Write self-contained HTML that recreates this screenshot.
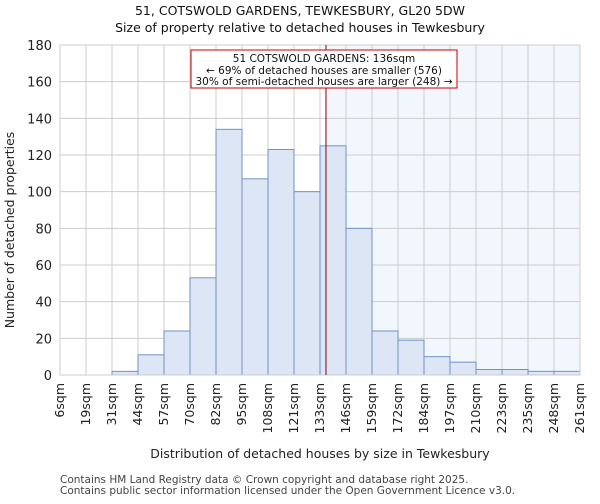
<!DOCTYPE html>
<html><head><meta charset="utf-8"><style>
body{margin:0;background:#fff;font-family:"DejaVu Sans","Liberation Sans",sans-serif}
text{font-family:"DejaVu Sans","Liberation Sans",sans-serif}
</style></head><body>
<svg id="c" width="600" height="500" xmlns="http://www.w3.org/2000/svg"></svg>
<script>
const labels=["6sqm","19sqm","31sqm","44sqm","57sqm","70sqm","82sqm","95sqm","108sqm","121sqm","133sqm","146sqm","159sqm","172sqm","184sqm","197sqm","210sqm","223sqm","235sqm","248sqm","261sqm"];
const counts=[0,0,2,11,24,53,134,107,123,100,125,80,24,19,10,7,3,3,2,2];
const yTicks=[0,20,40,60,80,100,120,140,160,180];
const propertyBin=10.23;
const L=60,R=580,T=45,B=375,yMax=180;
const n=counts.length;
const x=i=>L+(R-L)*i/n;
const y=v=>B-(B-T)*v/yMax;
const s=document.getElementById('c');
const NS='http://www.w3.org/2000/svg';
function mk(t,a,txt){const e=document.createElementNS(NS,t);for(const k in a)e.setAttribute(k,a[k]);if(txt!==undefined)e.textContent=txt;s.appendChild(e);return e;}
let e;
e=mk('rect',{x:x(propertyBin),y:T,width:R-x(propertyBin),height:B-T,fill:'#f2f6fd'});


for(let i=0;i<=n;i++){e=mk('line',{x1:x(i),x2:x(i),y1:T,y2:B,stroke:'#cccccc','stroke-width':1});

}
yTicks.forEach(v=>{e=mk('line',{x1:L,x2:R,y1:y(v),y2:y(v),stroke:'#cccccc','stroke-width':1});


e=mk('text',{x:L-8,y:y(v)+5,'text-anchor':'end','font-size':13,fill:'#222'},v);

});
counts.forEach((c,i)=>{e=mk('rect',{x:x(i),y:y(c),width:x(i+1)-x(i),height:B-y(c),fill:'#dce6f5',stroke:'#6f93c8','stroke-width':1});

});
labels.forEach((l,i)=>{const xx=x(i)+4;e=mk('text',{x:xx,y:B+8,'text-anchor':'end','font-size':12.5,fill:'#222',transform:`rotate(-90 ${xx} ${B+8})`},l);

});
e=mk('rect',{x:L,y:T,width:R-L,height:B-T,fill:'none',stroke:'#cccccc'});


e=mk('line',{x1:x(propertyBin),x2:x(propertyBin),y1:T,y2:B,stroke:'#880000','stroke-width':1});


e=mk('rect',{x:191,y:50,width:266,height:38,fill:'#fff',stroke:'#cc0000','stroke-width':1});


[["51 COTSWOLD GARDENS: 136sqm",62],["← 69% of detached houses are smaller (576)",74],["30% of semi-detached houses are larger (248) →",85]].forEach(t=>{
e=mk('text',{x:324,y:t[1],'text-anchor':'middle','font-size':10.5,fill:'#111'},t[0]);

});
e=mk('text',{x:300,y:15,'text-anchor':'middle','font-size':12.5,fill:'#111'},'51, COTSWOLD GARDENS, TEWKESBURY, GL20 5DW');


e=mk('text',{x:300,y:32,'text-anchor':'middle','font-size':12.5,fill:'#111'},'Size of property relative to detached houses in Tewkesbury');


e=mk('text',{x:14,y:230,'text-anchor':'middle','font-size':12.5,fill:'#222',transform:'rotate(-90 14 230)'},'Number of detached properties');


e=mk('text',{x:320,y:458,'text-anchor':'middle','font-size':12.5,fill:'#222'},'Distribution of detached houses by size in Tewkesbury');


e=mk('text',{x:60,y:483,'font-size':10.5,fill:'#444'},'Contains HM Land Registry data © Crown copyright and database right 2025.');


e=mk('text',{x:60,y:494,'font-size':10.5,fill:'#444'},'Contains public sector information licensed under the Open Government Licence v3.0.');


</script>
</body></html>
